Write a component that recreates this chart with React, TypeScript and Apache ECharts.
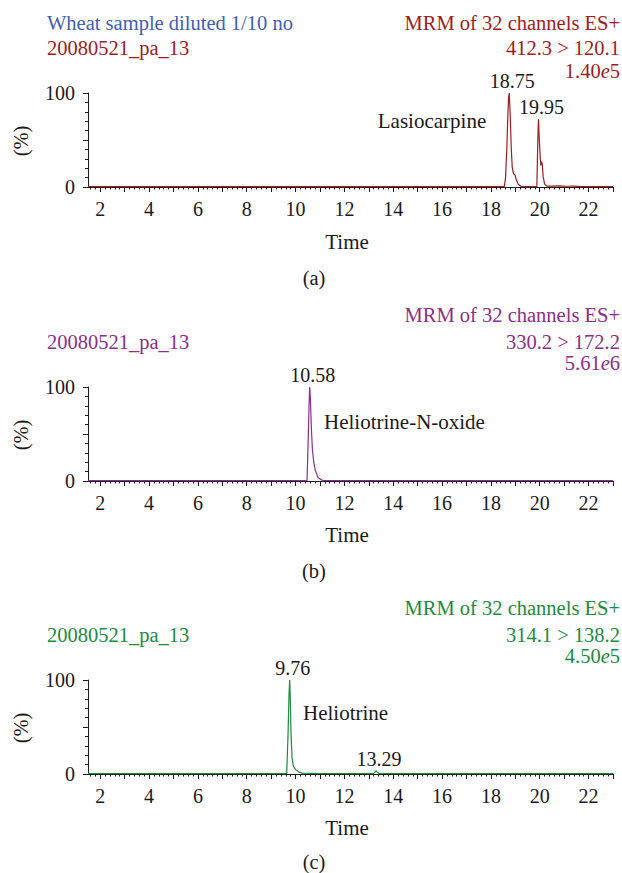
import React, { useEffect, useRef } from "react";
import * as echarts from "echarts";

// ---- data ----
const timeA = [1.5, 4, 7, 10, 13, 16, 18.3, 18.545, 18.6, 18.654, 18.695, 18.723, 18.75, 18.79, 18.832, 18.873, 18.927, 18.982, 19.037, 19.12, 19.23, 19.5, 19.882, 19.909, 19.936, 19.95, 19.977, 20.018, 20.045, 20.073, 20.1, 20.14, 20.195, 20.29, 20.5, 20.8, 21.1, 21.4, 21.7, 22.2, 23];
const intensityA = [0.3, 0.3, 0.3, 0.3, 0.3, 0.3, 0.3, 0.3, 10, 42, 77, 95, 100, 77, 42, 21, 14, 13, 8, 3, 0.7, 0.3, 0.3, 35, 63, 72, 53, 32, 23, 27, 25, 11, 3.5, 1, 1, 1.2, 0.8, 1, 0.4, 0.3, 0.3];

const timeB = [1.5, 4, 7, 10, 10.47, 10.512, 10.553, 10.58, 10.607, 10.648, 10.689, 10.744, 10.812, 10.921, 11.126, 13, 16, 19, 21, 23];
const intensityB = [0.3, 0.3, 0.3, 0.3, 0.3, 38, 81, 100, 88, 56, 34, 20, 11, 3.6, 0.3, 0.3, 0.3, 0.3, 0.3, 0.3];

const timeC = [1.5, 4, 7, 9.637, 9.692, 9.733, 9.76, 9.787, 9.815, 9.856, 9.91, 10.006, 10.142, 10.279, 11, 12, 13.19, 13.25, 13.29, 13.34, 13.41, 15, 18, 20.5, 21, 23];
const intensityC = [0.3, 0.3, 0.3, 0.3, 42, 85, 100, 78, 42, 17, 8, 4.6, 2, 1, 0.5, 0.4, 0.4, 2, 3.6, 2, 0.7, 0.3, 0.3, 0.5, 0.3, 0.3];

const peakTimesA = [18.75, 19.95];
const peakHeightsA = [100, 72];
const peakTimesB = [10.58];
const peakHeightsB = [100];
const peakTimesC = [9.76, 13.29];
const peakHeightsC = [100, 3.6];

const xTickLabels = [2, 4, 6, 8, 10, 12, 14, 16, 18, 20, 22];
const yTickLabels = [0, 100];
const X_MIN = 1.5;
const X_MAX = 23;

const RED = "#9c1d22";
const PURPLE = "#8a2f8a";
const GREEN = "#1e8a3e";
const BLUE = "#3e5fb4";
const INK = "#1a1a1a";
const FONT = "Liberation Serif, DejaVu Serif, serif";
const FS = 20;
const FS_HEAD = 20.5;
const FS_NOTE = 21;

const majorTicks: number[] = [];
for (let v = 2; v <= 23; v++) majorTicks.push(v);
const minorTicks: number[] = [];
for (let i = 16; i <= 230; i += 2) {
  if (i % 10 !== 0) minorTicks.push(i / 10);
}

const zip = (t: number[], v: number[]) => t.map((x, i) => [x, v[i]]);

const gridTops = [93, 387, 680];
const GRID_H = 94;

export default function App() {
  const ref = useRef<HTMLDivElement>(null);
  useEffect(() => {
    if (!ref.current) return;
    const chart = echarts.init(ref.current, undefined, { renderer: "svg" });

    const lineColors = [RED, PURPLE, GREEN];
    const datas = [zip(timeA, intensityA), zip(timeB, intensityB), zip(timeC, intensityC)];
    const peaks = [
      zip(peakTimesA, peakHeightsA),
      zip(peakTimesB, peakHeightsB),
      zip(peakTimesC, peakHeightsC),
    ];

    const grid = gridTops.map((top) => ({ left: 88, width: 525, top, height: GRID_H }));
    const axisLineStyle = { color: INK, width: 1 };
    const xAxis: any[] = [];
    const yAxis: any[] = [];
    gridTops.forEach((_, gi) => {
      xAxis.push({
        type: "value",
        gridIndex: gi,
        min: X_MIN,
        max: X_MAX,
        axisLine: { show: true, onZero: false, lineStyle: axisLineStyle },
        axisTick: { show: true, customValues: majorTicks, length: 5, lineStyle: axisLineStyle },
        axisLabel: {
          show: true,
          customValues: xTickLabels,
          margin: 12,
          fontFamily: FONT,
          fontSize: FS,
          color: INK,
        },
        splitLine: { show: false },
      });
      xAxis.push({
        type: "value",
        gridIndex: gi,
        min: X_MIN,
        max: X_MAX,
        position: "bottom",
        axisLine: { show: false, onZero: false },
        axisTick: { show: true, customValues: minorTicks, length: 2.5, lineStyle: axisLineStyle },
        axisLabel: { show: false },
        splitLine: { show: false },
      });
      yAxis.push({
        type: "value",
        gridIndex: gi,
        min: 0,
        max: 100,
        interval: 50,
        axisLine: { show: true, lineStyle: axisLineStyle },
        axisTick: { show: true, length: 5, lineStyle: axisLineStyle },
        minorTick: { show: true, splitNumber: 5, length: 3, lineStyle: axisLineStyle },
        axisLabel: {
          show: true,
          customValues: yTickLabels,
          margin: 13,
          fontFamily: FONT,
          fontSize: FS,
          color: INK,
        },
        splitLine: { show: false },
        minorSplitLine: { show: false },
      });
    });

    const series = datas.map((d, gi) => ({
      type: "line",
      xAxisIndex: gi * 2,
      yAxisIndex: gi,
      data: d,
      showSymbol: false,
      symbol: "none",
      lineStyle: { color: lineColors[gi], width: 1.2 },
      z: 5,
      markPoint: {
        symbol: "circle",
        symbolSize: 0,
        data: peaks[gi].map((p) => ({ coord: p, name: String(p[0].toFixed(2)) })),
        label: {
          show: true,
          position: "top",
          distance: 2,
          offset: [3, 0],
          formatter: (p: any) => p.name,
          fontFamily: FONT,
          fontSize: FS,
          color: INK,
        },
      },
    }));

    const txt = (
      text: string,
      x: number,
      y: number,
      fill: string,
      align: string = "left",
      size: number = FS_HEAD,
      extra: any = {}
    ) => ({
      type: "text",
      x,
      y,
      ...extra,
      style: {
        text,
        fill,
        fontFamily: FONT,
        fontSize: size,
        align,
        verticalAlign: "middle",
        rich: { i: { fontStyle: "italic", fontSize: size, fontFamily: FONT, fill } },
      },
    });

    const panels = [
      { color: RED, mrmY: 23, nameY: 48, transY: 48, scaleY: 71, trans: "412.3 > 120.1", scale: "1.40{i|e}5", letter: "(a)" },
      { color: PURPLE, mrmY: 315, nameY: 342, transY: 342, scaleY: 363, trans: "330.2 > 172.2", scale: "5.61{i|e}6", letter: "(b)" },
      { color: GREEN, mrmY: 608, nameY: 635, transY: 635, scaleY: 656, trans: "314.1 > 138.2", scale: "4.50{i|e}5", letter: "(c)" },
    ];
    const timeYs = [242, 535, 828];
    const letterYs = [278, 571, 862];

    const graphic: any[] = [txt("Wheat sample diluted 1/10 no", 47, 23, BLUE)];
    panels.forEach((p, gi) => {
      graphic.push(txt("20080521_pa_13", 47, p.nameY, p.color));
      graphic.push(txt("MRM of 32 channels ES+", 620, p.mrmY, p.color, "right"));
      graphic.push(txt(p.trans, 620, p.transY, p.color, "right"));
      graphic.push(txt(p.scale, 620, p.scaleY, p.color, "right"));
      graphic.push(txt("Time", 347, timeYs[gi], INK, "center", FS_NOTE));
      graphic.push(txt(p.letter, 314, letterYs[gi], INK, "center", FS_HEAD));
      graphic.push(
        txt("(%)", 21, gridTops[gi] + GRID_H / 2 + 1, INK, "center", FS_HEAD, { rotation: Math.PI / 2 })
      );
    });
    graphic.push(txt("Lasiocarpine", 432, 121, INK, "center", FS_NOTE));
    graphic.push(txt("Heliotrine-N-oxide", 324, 422, INK, "left", FS_NOTE));
    graphic.push(txt("Heliotrine", 303, 713, INK, "left", FS_NOTE));

    chart.setOption({
      animation: false,
      backgroundColor: "#ffffff",
      grid,
      xAxis,
      yAxis,
      series,
      graphic,
    });
    return () => chart.dispose();
  }, []);

  return (
    <div
      ref={ref}
      style={{ position: "fixed", left: 0, top: 0, width: 622, height: 873, background: "#fff" }}
    />
  );
}
